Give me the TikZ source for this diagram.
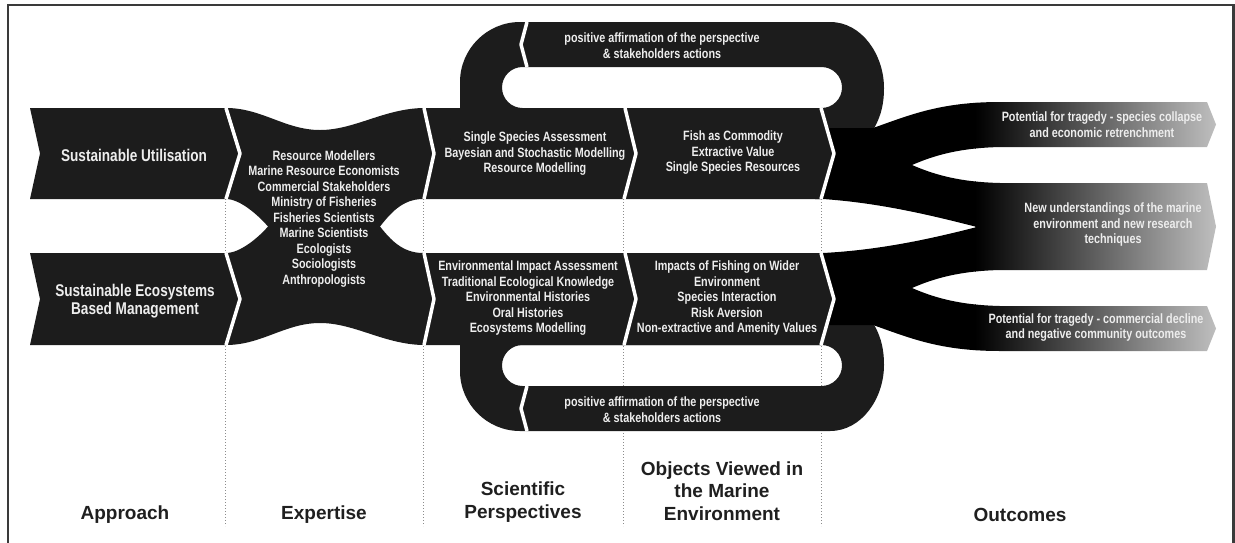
\documentclass[tikz,border=0pt]{standalone}
\usepackage{fontspec}
\setmainfont{Liberation Sans}
\newfontfamily\narrowsans[FakeStretch=0.8]{Liberation Sans}

\definecolor{bandGray}{HTML}{1C1C1C}
\definecolor{lightText}{HTML}{EDEDED}
\definecolor{frameGray}{HTML}{3A3A3A}

\begin{document}
\begin{tikzpicture}[x=1pt, y=-1pt,
        bandtext/.style={text=lightText, align=center, inner sep=0pt,
            font=\narrowsans\bfseries\fontsize{13.5}{15.5}\selectfont},
        approachtext/.style={bandtext,
            font=\narrowsans\bfseries\fontsize{17}{18.5}\selectfont},
        coltitle/.style={align=center, inner sep=0pt, text=black!88,
            font=\bfseries\fontsize{19}{22.5}\selectfont},
        separator/.style={white, line width=3.5pt, line join=round},
        colline/.style={black!45, line width=1pt, dash pattern=on 1pt off 2pt}]
    \useasboundingbox (0,0) rectangle (1235,542);

    % Moldura.
    \draw[frameGray, line width=2.5pt] (8,545) -- (8,5) -- (1233.5,5) -- (1233.5,545);

    % Linhas pontilhadas entre as colunas.
    \foreach \xc in {225,423,623,821}
        \draw[colline] (\xc,199) -- (\xc,526);

    % Lacos de retorno (em cima e espelhado em baixo).
    \foreach \ys/\yf in {0/1, 453/-1} {
        \begin{scope}[shift={(0,\ys)}, yscale=\yf]
            \fill[bandGray, even odd rule]
                [rounded corners=20.5pt] (502,67) rectangle (842,108)
                [sharp corners] (460,112) -- (460,82)
                .. controls (460,49) and (487,22) .. (520,22)
                -- (830,22)
                .. controls (862,22) and (884,55) .. (884,88)
                .. controls (884,108) and (879,120) .. (873,130)
                -- (460,130) -- cycle;
            \draw[separator] (527,22) -- (521,44.5) -- (527,67);
        \end{scope}
    }

    % Resultados (fluxos com degrade).
    \begin{scope}
        \clip (815,128) -- (873,128)
            .. controls (910,115) and (940,102) .. (1000,102)
            -- (1207,102) -- (1216,124.5) -- (1207,147) -- (1000,147)
            .. controls (960,148) and (935,155) .. (912,165)
            .. controls (935,175) and (960,182) .. (1000,183)
            -- (1207,183) -- (1216,226.5) -- (1207,270) -- (1000,270)
            .. controls (960,271) and (935,278) .. (912,288)
            .. controls (935,298) and (960,305) .. (1000,306)
            -- (1207,306) -- (1216,328.5) -- (1207,351) -- (1000,351)
            .. controls (940,351) and (910,338) .. (873,325)
            -- (815,325) -- (815,253) -- (823,253)
            .. controls (880,250) and (930,239) .. (977,227)
            .. controls (930,215) and (880,203) .. (823,199)
            -- (815,199) -- cycle;
        \fill[black] (800,90) rectangle (976,360);
        \shade[left color=black, right color=black!25] (975,90) rectangle (1217,360);
    \end{scope}

    % Abordagens.
    \fill[bandGray] (30,108) -- (226,108) -- (241,153.5) -- (226,199)
        -- (30,199) -- (40,153.5) -- cycle;
    \fill[bandGray] (30,253) -- (226,253) -- (241,299) -- (226,345)
        -- (30,345) -- (40,299) -- cycle;

    % Faixa central (especialistas, perspectivas, objetos).
    \fill[bandGray] (226,108)
        .. controls (262,108) and (285,130) .. (320,130)
        .. controls (355,130) and (385,108) .. (425,108)
        -- (821,108) -- (834,153.5) -- (821,199) -- (423,199)
        .. controls (402,199) and (390,214) .. (380,226.5)
        .. controls (390,239) and (402,253) .. (423,253)
        -- (821,253) -- (834,299) -- (821,345) -- (425,345)
        .. controls (385,345) and (355,323) .. (320,323)
        .. controls (285,323) and (262,345) .. (226,345)
        -- (241,299) -- (226,253)
        .. controls (240,253) and (258,238) .. (268,226.5)
        .. controls (258,215) and (240,199) .. (226,199)
        -- (241,153.5) -- cycle;

    % Separadores.
    \foreach \xa/\xb/\xc in {226/240/226, 424/434/424, 625/636/624, 821/834/821} {
        \draw[separator] (\xa,108) -- (\xb,153.5) -- (\xc,199);
        \draw[separator] (\xa,253) -- (\xb,299) -- (\xc,345);
    }

    % Textos das faixas.
    \node[approachtext] (utilisation) at (134,155) {Sustainable Utilisation};
    \node[approachtext] (ecosystems) at (135,301) {Sustainable Ecosystems\\Based Management};
    \node[bandtext] (expertise) at (324,219) {Resource Modellers\\Marine Resource Economists\\
        Commercial Stakeholders\\Ministry of Fisheries\\Fisheries Scientists\\
        Marine Scientists\\Ecologists\\Sociologists\\Anthropologists};
    \node[bandtext] (sciTop) at (535,154) {Single Species Assessment\\
        Bayesian and Stochastic Modelling\\Resource Modelling};
    \node[bandtext] (objTop) at (733,153) {Fish as Commodity\\Extractive Value\\
        Single Species Resources};
    \node[bandtext] (sciBottom) at (528,298.5) {Environmental Impact Assessment\\
        Traditional Ecological Knowledge\\Environmental Histories\\Oral Histories\\
        Ecosystems Modelling};
    \node[bandtext] (objBottom) at (727,298.5) {Impacts of Fishing on Wider\\Environment\\
        Species Interaction\\Risk Aversion\\Non-extractive and Amenity Values};
    \node[bandtext] (loopTop) at (662,45.5) {positive affirmation of the perspective\\
        \& stakeholders actions};
    \node[bandtext] (loopBottom) at (662,409.5) {positive affirmation of the perspective\\
        \& stakeholders actions};

    % Textos dos resultados.
    \node[bandtext] (tragedyTop) at (1102,124.5) {Potential for tragedy - species collapse\\
        and economic retrenchment};
    \node[bandtext] (understand) at (1113,225) {New understandings of the marine\\
        environment and new research\\techniques};
    \node[bandtext] (tragedyBottom) at (1096,327.5) {Potential for tragedy - commercial decline\\
        and negative community outcomes};

    % Titulos das colunas.
    \node[coltitle] (approach) at (125,515) {Approach};
    \node[coltitle] (expertiseTitle) at (324,515) {Expertise};
    \node[coltitle] (scientific) at (523,502) {Scientific\\Perspectives};
    \node[coltitle] (objects) at (722,491) {Objects Viewed in\\the Marine\\Environment};
    \node[coltitle] (outcomes) at (1020,515) {Outcomes};
\end{tikzpicture}
\end{document}
